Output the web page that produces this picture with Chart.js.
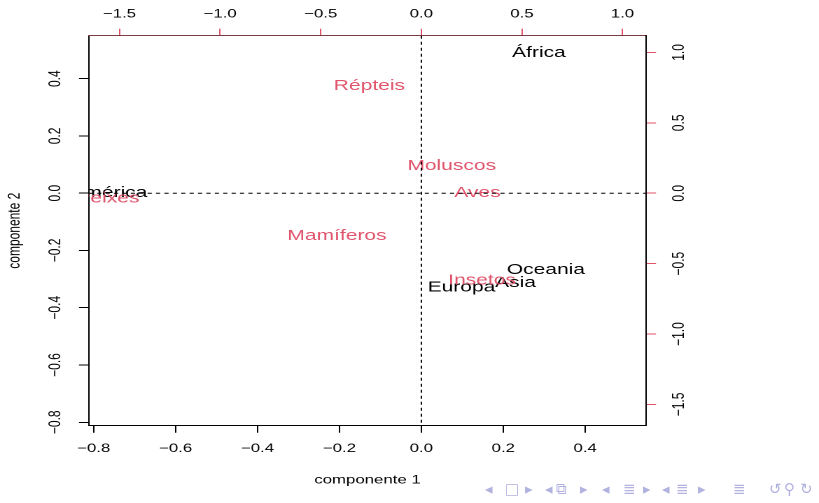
<!DOCTYPE html>
<html>
<head>
<meta charset="utf-8">
<script src="https://cdn.jsdelivr.net/npm/chart.js@4"></script>
<style>
  html, body { margin:0; padding:0; background:#fff; overflow:hidden; }
  /* the reference slide is stretched sideways, so the chart is drawn narrow and scaled */
  #wrap { position:absolute; left:0; top:0; width:585px; height:503px; transform:scaleX(1.4); transform-origin:0 0; }
  .nav { position:absolute; top:480px; font:15px "DejaVu Sans"; color:#b2b2e0; }
</style>
</head>
<body>
<div id="wrap"><canvas id="biplot"></canvas></div>
<div id="navbar"></div>
<script>
var RED = '#DF536B'
var FONT = '"Liberation Sans", Arial, Helvetica, sans-serif'

// rows (countries) on the bottom/left scales
var countries = ['África', 'América', 'Europa', 'Asia', 'Oceania']
var countryX = [0.287, -0.763, 0.098, 0.230, 0.304]
var countryY = [0.495, 0.005, -0.324, -0.308, -0.263]

// columns (animals) on the top/right scales
var animals = ['Répteis', 'Moluscos', 'Aves', 'Peixes', 'Mamíferos', 'Insetos']
var animalX = [-0.258, 0.151, 0.279, -1.558, -0.419, 0.302]
var animalY = [0.773, 0.203, 0.011, -0.026, -0.294, -0.609]

var xTicks = [-0.8, -0.6, -0.4, -0.2, 0, 0.2, 0.4]
var yTicks = [-0.8, -0.6, -0.4, -0.2, 0, 0.2, 0.4]
var x2Ticks = [-1.5, -1, -0.5, 0, 0.5, 1]
var y2Ticks = [-1.5, -1, -0.5, 0, 0.5, 1]
var xRange = [-0.812, 0.549]
var yRange = [-0.812, 0.550]
var x2Range = [-1.653, 1.118]
var y2Range = [-1.651, 1.119]

function fmt(v) {
    return (v < 0 ? '\u2212' : '') + Math.abs(v).toFixed(1)
}

var textLabels = {
    id: 'textLabels',
    afterDatasetsDraw: function(chart) {
        var ctx = chart.ctx
        var a = chart.chartArea
        ctx.save()
        ctx.beginPath()
        ctx.rect(a.left, a.top, a.right - a.left, a.bottom - a.top)
        ctx.clip()
        ctx.font = '15px ' + FONT
        ctx.textAlign = 'center'
        ctx.textBaseline = 'alphabetic'
        chart.data.datasets.forEach(function(ds, i) {
            ctx.fillStyle = ds.textColor
            chart.getDatasetMeta(i).data.forEach(function(pt, j) {
                ctx.fillText(ds.names[j], pt.x, pt.y + 15 * 0.716 / 2)
            })
        })
        // abline(h = 0, v = 0, lty = 2)
        var x0 = chart.scales.x.getPixelForValue(0)
        var y0 = chart.scales.y.getPixelForValue(0)
        ctx.strokeStyle = '#000'
        ctx.lineWidth = 1
        ctx.setLineDash([3, 3])
        ctx.beginPath()
        ctx.moveTo(x0, a.top)
        ctx.lineTo(x0, a.bottom)
        ctx.moveTo(a.left, y0)
        ctx.lineTo(a.right, y0)
        ctx.stroke()
        ctx.restore()
    }
}

function makeAxis(pos, range, ticks, size, tickColor, borderColor, padding, title) {
    var vertical = (pos == 'left' || pos == 'right')
    var axis = {
        type: 'linear',
        position: pos,
        min: range[0],
        max: range[1],
        afterBuildTicks: function(s) { s.ticks = ticks.map(function(v) { return {value: v} }) },
        afterFit: function(s) { if (vertical) { s.width = size } else { s.height = size } },
        grid: { drawOnChartArea: false, tickLength: 7, color: tickColor, tickColor: tickColor, lineWidth: 1 },
        border: { display: true, color: borderColor, width: 1 },
        ticks: {
            padding: padding,
            color: '#000',
            autoSkip: false,
            font: { size: 12, family: FONT },
            callback: function(v) { return fmt(v) }
        },
        title: { display: false }
    }
    if (vertical) {
        axis.ticks.minRotation = 90
        axis.ticks.maxRotation = 90
        axis.ticks.crossAlign = 'center'
    } else {
        axis.ticks.maxRotation = 0
    }
    if (title) {
        axis.title = { display: true, text: title.text, color: '#000', font: { size: 12, family: FONT }, padding: title.padding }
    }
    return axis
}

var chart = new Chart(document.getElementById('biplot').getContext('2d'), {
    type: 'scatter',
    data: {
        datasets: [
            {
                names: countries,
                textColor: '#000',
                data: countryX.map(function(v, i) { return {x: v, y: countryY[i]} }),
                xAxisID: 'x',
                yAxisID: 'y',
                pointRadius: 0
            },
            {
                names: animals,
                textColor: RED,
                data: animalX.map(function(v, i) { return {x: v, y: animalY[i]} }),
                xAxisID: 'x2',
                yAxisID: 'y2',
                pointRadius: 0
            }
        ]
    },
    options: {
        responsive: true,
        maintainAspectRatio: false,
        animation: false,
        devicePixelRatio: 2,
        events: [],
        layout: { padding: { left: 0, top: 0, right: 83.4, bottom: 0 } },
        plugins: { legend: { display: false }, tooltip: { enabled: false } },
        scales: {
            x: makeAxis('bottom', xRange, xTicks, 77.3, '#000', '#000', 9, { text: 'componente 1', padding: { top: 0, bottom: 15.8 } }),
            y: makeAxis('left', yRange, yTicks, 63.4, '#000', '#000', 4.8, { text: 'componente 2', padding: { top: 3.5, bottom: 0 } }),
            x2: makeAxis('top', x2Range, x2Ticks, 35.7, RED, '#7a3c45', 7.5),
            y2: makeAxis('right', y2Range, y2Ticks, 40, RED, '#000', 4.6)
        }
    },
    plugins: [textLabels]
})

// beamer navigation symbols in the corner of the slide
var navSymbols = ['◂', '□', '▸', '◂', '⧉', '▸', '◂', '≣', '▸', '◂', '≣', '▸', '≣', '↺', '⚲', '↻']
var navLeft = [485, 505, 525, 545, 556, 580, 602, 623, 643, 662, 676, 698, 733, 769, 784, 800]
var bar = document.getElementById('navbar')
navSymbols.forEach(function(s, i) {
    var el = document.createElement('span')
    el.className = 'nav'
    el.style.left = navLeft[i] + 'px'
    el.textContent = s
    bar.appendChild(el)
})
</script>
</body>
</html>
